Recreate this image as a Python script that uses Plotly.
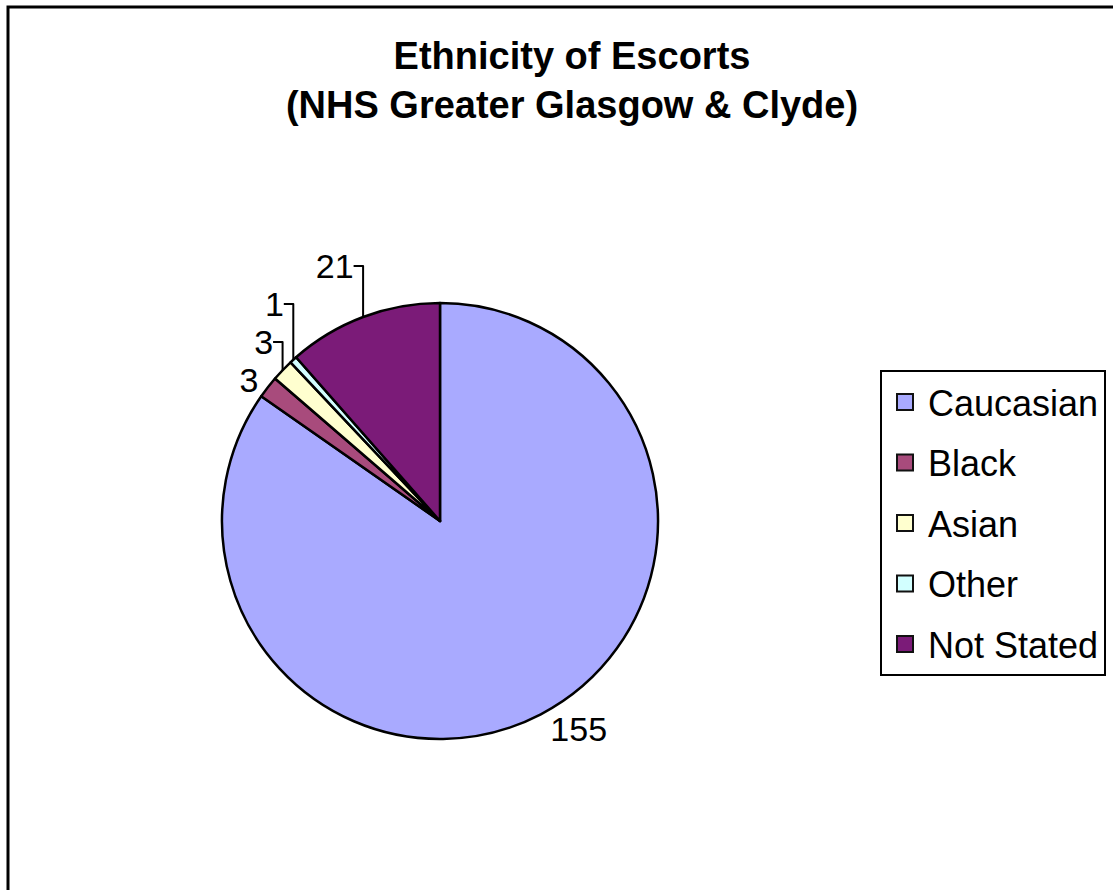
import plotly.graph_objects as go

categories = ["Caucasian", "Black", "Asian", "Other", "Not Stated"]
counts = [155, 3, 3, 1, 21]
colors = ["#A9AAFF", "#A84B7C", "#FFFFCF", "#D2FFFF", "#7B1B78"]
title_lines = ["Ethnicity of Escorts", "(NHS Greater Glasgow & Clyde)"]

W, H = 1113, 890
FONT = "Liberation Sans, Arial, sans-serif"

fig = go.Figure()

fig.add_trace(go.Pie(
    labels=categories,
    values=counts,
    sort=False,
    direction="clockwise",
    rotation=0,
    marker=dict(colors=colors, line=dict(color="black", width=2.5)),
    textinfo="value",
    textposition="outside",
    textfont=dict(family=FONT, size=34, color="black"),
    showlegend=False,
    domain=dict(x=[222 / W, 658 / W], y=[(H - 739) / H, (H - 303) / H]),
))

# legend entries (one group per category so the spacing can be set)
for cat, col in zip(categories, colors):
    fig.add_trace(go.Scatter(
        x=[None], y=[None], mode="markers", name=cat, legendgroup=cat,
        marker=dict(symbol="square", size=16, color=col,
                    line=dict(color="#111111", width=2)),
        showlegend=True, hoverinfo="skip",
    ))

fig.update_layout(
    width=W, height=H,
    margin=dict(l=0, r=0, t=0, b=0),
    paper_bgcolor="white", plot_bgcolor="white",
    title=dict(text="<br>".join(title_lines), x=572 / W, xanchor="center",
               y=1 - 69 / H, yanchor="middle",
               font=dict(family=FONT, size=38, color="black", weight="bold")),
    xaxis=dict(visible=False), yaxis=dict(visible=False),
    legend=dict(x=880 / W, xanchor="left", y=1 - 370 / H, yanchor="top",
                bordercolor="black", borderwidth=2, bgcolor="white",
                font=dict(family=FONT, size=36, color="black"),
                traceorder="grouped", tracegroupgap=10.7,
                itemwidth=36, itemclick=False),
    shapes=[dict(type="rect", xref="paper", yref="paper",
                 x0=8 / W, x1=1.02, y0=-0.02, y1=1 - 7 / H,
                 line=dict(color="black", width=3), fillcolor="rgba(0,0,0,0)")],
)

fig.write_html("out.html")
